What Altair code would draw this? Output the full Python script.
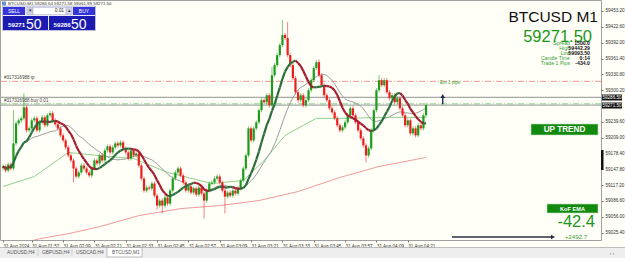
import altair as alt
import pandas as pd

# ---------------- data ----------------
close = [59153.2, 59145.4, 59157.0, 59149.3, 59197.7, 59236.4, 59242.2, 59246.1, 59267.4, 59222.9,
         59226.7, 59242.2, 59246.1, 59222.9, 59238.4, 59248.0, 59232.6, 59251.9, 59255.8, 59242.2,
         59234.5, 59226.7, 59213.2, 59203.5, 59190.0, 59174.5, 59164.8, 59149.3, 59133.8, 59141.6,
         59155.1, 59149.3, 59141.6, 59135.8, 59149.3, 59164.8, 59159.0, 59174.5, 59164.8, 59184.2,
         59191.9, 59180.3, 59190.0, 59197.7, 59193.8, 59199.6, 59188.0, 59180.3, 59168.7, 59184.2,
         59174.5, 59178.3, 59155.1, 59129.9, 59106.7, 59112.5, 59110.6, 59120.3, 59097.0, 59077.7,
         59087.4, 59077.7, 59093.2, 59081.5, 59106.7, 59129.9, 59141.6, 59149.3, 59135.8, 59122.2,
         59106.7, 59114.5, 59102.8, 59110.6, 59099.0, 59112.5, 59100.9, 59087.4, 59106.7, 59120.3,
         59122.2, 59129.9, 59133.8, 59122.2, 59106.7, 59095.1, 59102.8, 59097.0, 59106.7, 59100.9,
         59110.6, 59126.1, 59149.3, 59174.5, 59226.7, 59203.5, 59226.7, 59238.4, 59261.6, 59281.0,
         59277.1, 59290.6, 59271.3, 59329.3, 59348.7, 59368.1, 59387.4, 59406.8, 59401.0, 59368.1,
         59348.7, 59323.6, 59296.4, 59281.0, 59290.6, 59271.3, 59281.0, 59300.3, 59319.7, 59342.9,
         59354.5, 59329.3, 59310.0, 59290.6, 59281.0, 59265.4, 59257.7, 59246.1, 59232.6, 59222.9,
         59228.7, 59238.4, 59251.9, 59265.4, 59251.9, 59238.4, 59222.9, 59207.4, 59193.8, 59174.5,
         59188.0, 59222.9, 59261.6, 59300.3, 59319.7, 59310.0, 59319.7, 59296.4, 59284.8, 59290.6,
         59277.1, 59284.8, 59265.4, 59251.9, 59232.6, 59242.2, 59217.1, 59226.7, 59213.2, 59232.6,
         59226.7, 59251.9, 59271.5]
first_open = 59150.0
wick_default = 4.0
high_override = {4: 59261.6, 8: 59294.5, 103: 59345.0, 107: 59435.8, 109: 59432.0,
                 121: 59360.0, 144: 59329.3}
low_override = {27: 59122.0, 59: 59070.0, 61: 59062.2, 77: 59052.5, 85: 59062.2, 139: 59160.9}

slow_green_idx = [0, 12, 25, 40, 50, 63, 80, 92, 100, 108, 120, 133, 146, 162]
slow_green_val = [59114.5, 59133.8, 59180.3, 59172.5, 59168.7, 59141.6, 59120.3, 59126.1,
                  59164.8, 59213.2, 59246.1, 59246.1, 59248.0, 59248.0]
slow_red_idx = [0, 14, 25, 37, 52, 68, 83, 98, 113, 129, 144, 162]
slow_red_val = [58994.4, 59013.8, 59023.5, 59037.0, 59058.3, 59071.9, 59077.7, 59087.4,
                59104.8, 59131.9, 59153.2, 59170.6]

time_tick_idx = [0, 11, 23, 35, 47, 59, 71, 83, 95, 107, 119, 131, 143, 155]
time_tick_lab = ["31 Aug 2024", "31 Aug 01:57", "31 Aug 02:09", "31 Aug 02:21", "31 Aug 02:33",
                 "31 Aug 02:45", "31 Aug 02:57", "31 Aug 03:09", "31 Aug 03:21", "31 Aug 03:33",
                 "31 Aug 03:45", "31 Aug 03:57", "31 Aug 04:09", "31 Aug 04:21"]
price_ticks = [59453.20, 59422.60, 59392.00, 59361.40, 59330.80, 59300.20, 59239.60, 59209.00,
               59178.40, 59147.80, 59117.20, 59086.60, 59056.00, 59025.40]

tp_price = 59317.5
order_price = 59274.0
ask_price = 59286.5
bid_price = 59271.5

# ---------------- build tables ----------------
UP_C, DN_C = "#1c9c1c", "#ee1c1c"
MA_UP, MA_DN = "#2a6e3c", "#a31c30"
rows = []
prev = first_open
for i, c in enumerate(close):
    o = prev
    hi = high_override.get(i, max(o, c) + wick_default)
    lo = low_override.get(i, min(o, c) - wick_default)
    rows.append(dict(idx=i, open=o, close=c, high=hi, low=lo, col=UP_C if c >= o else DN_C))
    prev = c
cdf = pd.DataFrame(rows)

fast = pd.Series(close).rolling(10, min_periods=1).mean()
mid = pd.Series(close).rolling(21, min_periods=1).mean()
seg = []
for k in range(len(close) - 1):
    col = MA_UP if fast[k + 1] >= fast[k] else MA_DN
    seg.append(dict(idx=k, ma=fast[k], seg=k, col=col))
    seg.append(dict(idx=k + 1, ma=fast[k + 1], seg=k, col=col))
segdf = pd.DataFrame(seg)
middf = pd.DataFrame({"idx": list(range(len(close))), "ma": list(mid)})
gdf = pd.DataFrame({"idx": slow_green_idx, "ma": slow_green_val})
rdf = pd.DataFrame({"idx": slow_red_idx, "ma": slow_red_val})

W, H = 601, 240
BG = "#FFFFF7"
FONT = "Liberation Sans"
xs = alt.Scale(domain=[-1.15, 229.0], nice=False, zero=False)
ys = alt.Scale(domain=[59011.3, 59474.4], nice=False, zero=False)
lab_expr = "[" + ",".join("'%s'" % s for s in time_tick_lab) + "][indexof([" + \
    ",".join(str(v) for v in time_tick_idx) + "], datum.value)]"
xaxis = alt.Axis(values=time_tick_idx, labelExpr=lab_expr, labelAlign="left", labelFontSize=4.6,
                 labelFont=FONT, labelColor="#333", tickSize=2, tickColor="#777", labelPadding=1,
                 title=None, grid=False, domain=False, labelOverlap=False, labelFlush=False,
                 labelBound=False, orient="bottom")
yaxis = alt.Axis(values=price_ticks, format=".2f", labelFontSize=4.6, labelFont=FONT,
                 labelColor="#333", tickSize=2, tickColor="#777", labelPadding=2, title=None,
                 grid=False, domain=False, labelOverlap=False, labelFlush=False, orient="right")


def X(f):
    return alt.X(f, type="quantitative", scale=xs, axis=xaxis)


def Y(f):
    return alt.Y(f, type="quantitative", scale=ys, axis=yaxis)


one = pd.DataFrame({"k": [0]})


def txt(s, x, y, size, color, weight="normal", align="left", baseline="middle"):
    return alt.Chart(one).mark_text(text=s, fontSize=size, color=color, align=align,
                                    baseline=baseline, font=FONT, fontWeight=weight).encode(
        x=alt.value(x), y=alt.value(y))


def box(x0, x1, y0, y1, fill, stroke=None, sw=0.6):
    kw = dict(color=fill)
    if stroke:
        kw.update(stroke=stroke, strokeWidth=sw)
    return alt.Chart(one).mark_rect(**kw).encode(x=alt.value(x0), x2=alt.value(x1),
                                                 y=alt.value(y0), y2=alt.value(y1))


layers = []
# horizontal levels
lv = pd.DataFrame({"price": [tp_price]})
layers.append(alt.Chart(lv).mark_rule(color="#e88a8a", strokeWidth=0.9, strokeDash=[6, 2, 1, 2])
              .encode(y=Y("price")))
lv2 = pd.DataFrame({"price": [ask_price, bid_price]})
layers.append(alt.Chart(lv2).mark_rule(color="#a9a9a9", strokeWidth=1.3).encode(y=Y("price")))
lv3 = pd.DataFrame({"price": [order_price]})
layers.append(alt.Chart(lv3).mark_rule(color="#7ccc7c", strokeWidth=0.9, strokeDash=[6, 2, 1, 2])
              .encode(y=Y("price")))
# order labels
lab = pd.DataFrame({"price": [tp_price, order_price], "t": ["#317316988 tp", "#317316988 buy 0.01"]})
layers.append(alt.Chart(lab).mark_text(align="left", baseline="bottom", fontSize=4.6, font=FONT,
                                       color="#444", dy=-1)
              .encode(x=alt.value(4), y=Y("price"), text="t:N"))

# slow MAs
layers.append(alt.Chart(rdf).mark_line(color="#f29a9a", strokeWidth=1, clip=True)
              .encode(x=X("idx"), y=Y("ma")))
layers.append(alt.Chart(gdf).mark_line(color="#8fd08f", strokeWidth=1, clip=True)
              .encode(x=X("idx"), y=Y("ma")))
layers.append(alt.Chart(middf).mark_line(color="#9c9c9c", strokeWidth=1, clip=True)
              .encode(x=X("idx"), y=Y("ma")))

# candles
layers.append(alt.Chart(cdf).mark_rule(strokeWidth=0.8, opacity=0.7, clip=True)
              .encode(x=X("idx"), y=Y("low"), y2="high:Q", color=alt.Color("col:N", scale=None)))
layers.append(alt.Chart(cdf).mark_rule(strokeWidth=2.2, clip=True)
              .encode(x=X("idx"), y=Y("open"), y2="close:Q", color=alt.Color("col:N", scale=None)))

# fast MA coloured by slope
layers.append(alt.Chart(segdf).mark_line(strokeWidth=2.2, clip=True)
              .encode(x=X("idx"), y=Y("ma"), detail="seg:N", color=alt.Color("col:N", scale=None)))

# up arrow
arr = pd.DataFrame({"idx": [168.4], "p0": [59273.0], "p1": [59289.0]})
layers.append(alt.Chart(arr).mark_rule(color="#1e2c4c", strokeWidth=1.4)
              .encode(x=X("idx"), y=Y("p0"), y2="p1:Q"))
layers.append(alt.Chart(arr).mark_point(shape="triangle-up", filled=True, size=22, color="#1e2c4c",
                                        opacity=1).encode(x=X("idx"), y=Y("p1")))
layers.append(txt("Ext 1 pips", 440, 83, 4.6, "#3aa03a"))

# bottom horizontal arrow
layers.append(alt.Chart(one).mark_rule(color="#2a3040", strokeWidth=1.6)
              .encode(x=alt.value(452), x2=alt.value(551), y=alt.value(237)))
layers.append(alt.Chart(one).mark_point(shape="triangle-right", filled=True, size=22,
                                        color="#2a3040", opacity=1)
              .encode(x=alt.value(553), y=alt.value(237)))

# right info panel
layers.append(txt("BTCUSD M1", 598, 17, 15.5, "#111", align="right"))
layers.append(txt("59271.50", 592, 37, 16.5, "#199619", align="right"))
info = [("Spread", "1500.0", 43), ("High", "59442.29", 48), ("Low", "59093.50", 53),
        ("Candle Time", "0:14", 58), ("Trade 1 Pips", "-434.0", 63)]
for a, b, yy in info:
    layers.append(txt(a, 570, yy, 5.2, "#3aa03a", align="right"))
    layers.append(txt(b, 590, yy, 5.2, "#111", weight="bold", align="right"))
layers.append(box(531, 598, 124, 135, "#12890f", stroke="#b8e0b8"))
layers.append(txt("UP TREND", 564.5, 130, 8.2, "white", weight="bold", align="center"))
layers.append(box(547, 598, 204, 213, "#12890f", stroke="#b8e0b8"))
layers.append(txt("KoF EMA", 572.5, 208.7, 5.6, "white", weight="bold", align="center"))
layers.append(txt("-42.4", 595, 222, 16.5, "#199619", align="right"))
layers.append(txt("+2492.7", 576, 236.5, 6.2, "#3aa03a", align="center"))

# axis price boxes and candle-time bar
layers.append(box(601, 603.5, 150, 170, "#111"))
layers.append(box(602, 622, 94.5, 100.5, "#111"))
layers.append(txt("59286.50", 612, 97.7, 4.6, "white", align="center"))
layers.append(box(602, 622, 102.5, 108.5, "#111"))
layers.append(txt("59271.50", 612, 105.7, 4.6, "white", align="center"))

# top-left header and trade panel
layers.append(box(2, 6, 1.5, 5.5, "#6b8fd6"))
layers.append(txt("BTCUSD,M1  59284.64 59271.58 59061.99 59271.50", 8, 3.8, 4.4, "#333"))
layers.append(box(2.5, 95.5, 6, 30.5, "#e8e8f4", stroke="#9a9ad0", sw=0.6))
layers.append(box(3, 25, 7, 15, "#3434d8"))
layers.append(txt("SELL", 14, 11.2, 5, "white", align="center"))
layers.append(box(27, 33, 7.5, 14.5, "#cfd0e6", stroke="#9999bb", sw=0.4))
layers.append(txt("▾", 30, 11, 4.5, "#333", align="center"))
layers.append(box(33, 66, 7.5, 14.5, "white", stroke="#9999bb", sw=0.4))
layers.append(txt("0.01", 64, 11.2, 4.8, "#222", align="right"))
layers.append(box(66, 72, 7.5, 14.5, "#cfd0e6", stroke="#9999bb", sw=0.4))
layers.append(txt("▴", 69, 11, 4.5, "#333", align="center"))
layers.append(box(73, 95, 7, 15, "#3434d8"))
layers.append(txt("BUY", 84, 11.2, 5, "white", align="center"))
layers.append(box(3, 48, 16, 30, "#1b1bb2"))
layers.append(box(49, 95, 16, 30, "#1b1bb2"))
layers.append(txt("59271", 8, 27, 6.2, "white", weight="bold", baseline="alphabetic"))
layers.append(txt("50", 26, 28.5, 14, "white", baseline="alphabetic"))
layers.append(txt("59286", 53.5, 27, 6.2, "white", weight="bold", baseline="alphabetic"))
layers.append(txt("50", 71, 28.5, 14, "white", baseline="alphabetic"))

# bottom tab bar
layers.append(box(0, 625, 247.5, 258, "#eeeeee"))
layers.append(alt.Chart(one).mark_rule(color="#b0b0b0", strokeWidth=0.8)
              .encode(x=alt.value(0), x2=alt.value(625), y=alt.value(247.5)))
layers.append(box(107, 142, 247.5, 257, "white", stroke="#999", sw=0.6))
for name, xx in [("AUDUSD,H4", 7), ("GBPUSD,H4", 42), ("USDCAD,H4", 76), ("BTCUSD,M1", 112)]:
    layers.append(txt(name, xx, 252.5, 4.8, "#555"))
for xx in [38, 72]:
    layers.append(alt.Chart(one).mark_rule(color="#bbb", strokeWidth=0.6)
                  .encode(x=alt.value(xx), y=alt.value(249), y2=alt.value(256)))
layers.append(txt("‹  ›", 612, 252.5, 5, "#777", align="center"))

chart = alt.layer(*layers).properties(
    width=W, height=H, autosize="none", background=BG,
    padding={"left": 0, "top": 0, "right": 24, "bottom": 18}
).configure_view(stroke="#a0a0a0", strokeWidth=1, fill=BG)

chart.save("out.html", embed_options={"renderer": "svg", "actions": False})
